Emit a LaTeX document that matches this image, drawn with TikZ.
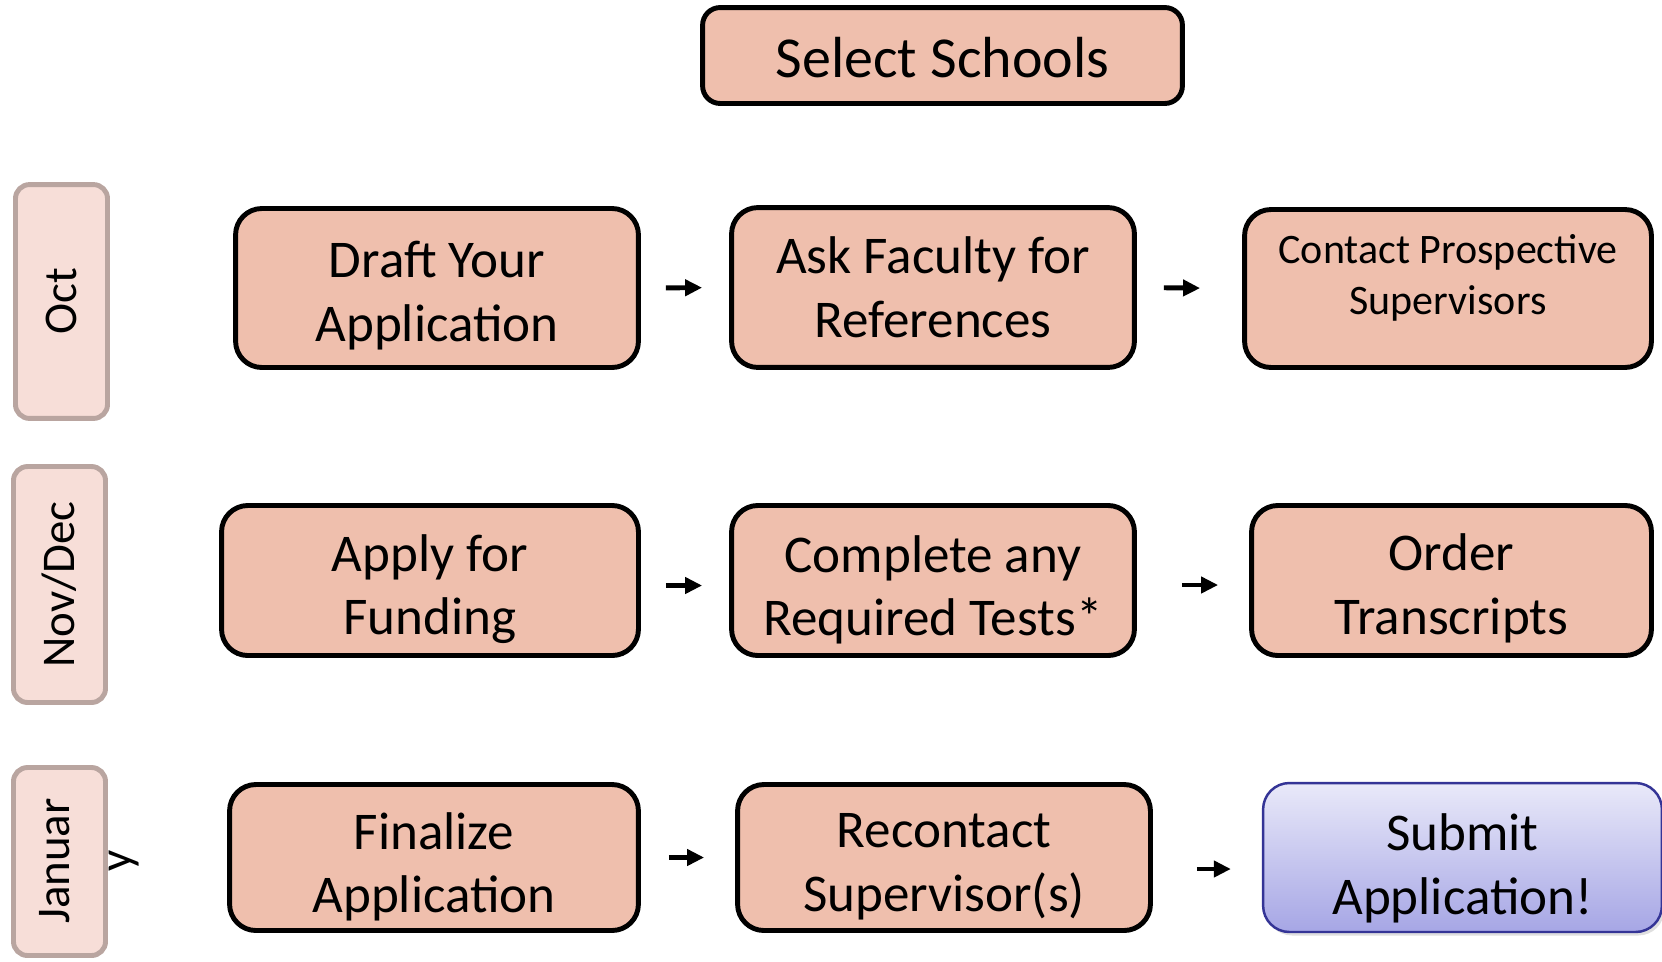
\documentclass[tikz,border=0pt]{standalone}
\usepackage{fontspec}
\setmainfont{Carlito}
\usepackage{xcolor}
\usetikzlibrary{arrows.meta}
\usetikzlibrary{shadows}
\definecolor{salmon}{RGB}{239,191,173}
\definecolor{monthfill}{RGB}{247,222,216}
\definecolor{monthedge}{RGB}{185,165,160}
\definecolor{subtop}{RGB}{233,233,249}
\definecolor{subbot}{RGB}{166,166,229}
\definecolor{subedge}{RGB}{52,52,150}

\begin{document}
\begin{tikzpicture}[x=0.02cm, y=-0.02cm,
  stage/.style={draw, line width=2.8pt, rounded corners=15pt, fill=salmon, inner sep=0pt},
  stagetext/.style={align=center, inner sep=0pt, font=\fontsize{30.2}{36.2}\selectfont},
  month/.style={draw=monthedge, line width=2.8pt, rounded corners=8pt, fill=monthfill,
    rotate=90, inner sep=0pt, minimum height=52.4pt, font=\fontsize{26.7}{32}\selectfont},
  flow/.style={line width=2.8pt, -{Triangle[length=9.7pt,width=9.1pt]}}]
\useasboundingbox (0,0) rectangle (1662,961);
% months
\node[month, minimum width=133.1pt] (oct) at (61.5,301.5) {Oct};
\node[month, minimum width=134.3pt] (novdec) at (59.5,584.5) {Nov/Dec};
\node[month, minimum width=107pt] (jan) at (59.5,861.5) {};
\node[rotate=90, align=center, font=\fontsize{26.7}{35}\selectfont] (jantext) at (89,861) {Januar\\y};
% top
\node[stage, rounded corners=10pt, minimum width=273.1pt, minimum height=54.6pt] (select) at (942.5,55.5) {};
\node[stagetext, font=\fontsize{33}{40}\selectfont] (select-t) at ([yshift=-0.05cm]select.center) {Select Schools};
% October
\node[stage, minimum width=229.3pt, minimum height=90.5pt] (draft) at (437,288) {};
\node[stagetext] (draft-t) at ([yshift=-0.15cm]draft.center) {Draft Your\\Application};
\node[stage, minimum width=229.3pt, minimum height=91pt] (ask) at (933,287.5) {};
\node[stagetext] (ask-t) at (ask.center) {Ask Faculty for\\References};
\node[stage, minimum width=231.6pt, minimum height=89.9pt] (contact) at (1448,288.5) {};
\node[stagetext, font=\fontsize{23.9}{28.7}\selectfont] (contact-t) at ([yshift=0.21cm]contact.center)
  {Contact Prospective\\Supervisors};
% November / December
\node[stage, minimum width=237.3pt, minimum height=85.4pt] (apply) at (430,580.5) {};
\node[stagetext] (apply-t) at ([yshift=-0.17cm]apply.center) {Apply for\\Funding};
\node[stage, minimum width=229.3pt, minimum height=85.4pt] (complete) at (933,580.5) {};
\node[stagetext] (complete-t) at ([yshift=-0.19cm]complete.center) {Complete any\\Required Tests*};
\node[stage, minimum width=227.6pt, minimum height=85.4pt] (order) at (1451.5,580.5) {};
\node[stagetext] (order-t) at ([yshift=-0.16cm]order.center) {Order\\Transcripts};
% January
\node[stage, minimum width=232.7pt, minimum height=83.1pt] (finalize) at (434,857.5) {};
\node[stagetext] (finalize-t) at ([yshift=-0.19cm]finalize.center) {Finalize\\Application};
\node[stage, minimum width=235pt, minimum height=83.1pt] (recontact) at (944,857.5) {};
\node[stagetext] (recontact-t) at ([yshift=-0.19cm]recontact.center) {Recontact\\Supervisor(s)};
\node[stage, draw=subedge, line width=1.4pt, top color=subtop, bottom color=subbot,
  drop shadow={opacity=0.25, shadow xshift=1.5pt, shadow yshift=-2pt},
  minimum width=227pt, minimum height=84.8pt] (submit) at (1462.5,857.5) {};
\node[stagetext] (submit-t) at ([yshift=-0.22cm]submit.center) {Submit\\Application!};
% arrows
\draw[flow, shorten <=0.5cm, shorten >=0.54cm] (draft.east) -- (ask.west);
\draw[flow, shorten <=0.54cm, shorten >=0.84cm] (ask.east) -- (contact.west);
\draw[flow, shorten <=0.5cm, shorten >=0.54cm] ([yshift=-0.1cm]apply.east) -- ([yshift=-0.1cm]complete.west);
\draw[flow, shorten <=0.9cm, shorten >=0.62cm] ([yshift=-0.09cm]complete.east) -- ([yshift=-0.09cm]order.west);
\draw[flow, shorten <=0.56cm, shorten >=0.62cm] (finalize.east) -- (recontact.west);
\draw[flow, shorten <=0.88cm, shorten >=0.62cm] ([yshift=-0.23cm]recontact.east) -- ([yshift=-0.23cm]submit.west);
\end{tikzpicture}
\end{document}
